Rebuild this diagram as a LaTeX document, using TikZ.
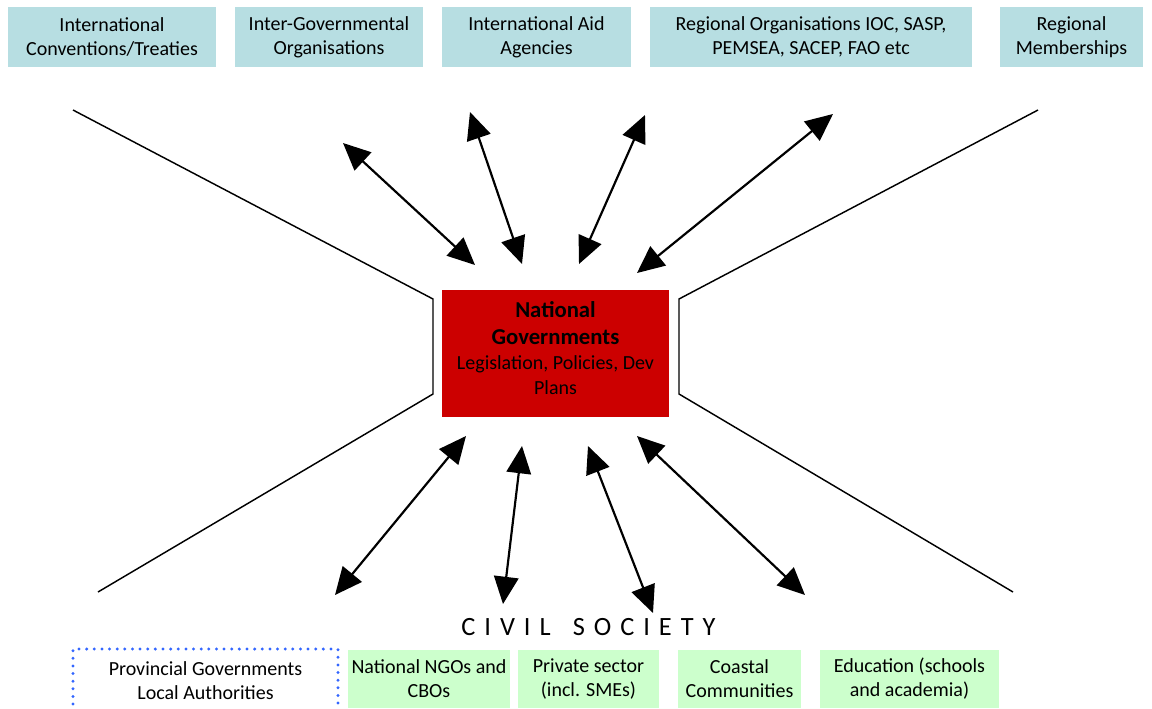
\documentclass[tikz,border=0pt]{standalone}
\usepackage{fontspec}
\setmainfont{Carlito}
\usetikzlibrary{arrows.meta}

\definecolor{agencyfill}{RGB}{183,222,226}
\definecolor{societyfill}{RGB}{204,255,204}
\definecolor{govred}{RGB}{204,0,0}
\definecolor{localblue}{RGB}{51,102,255}

\begin{document}
\begin{tikzpicture}[x=0.55pt, y=-0.55pt]
        \tikzstyle{agency}=[fill=agencyfill, minimum height=33pt, align=center, inner sep=0pt, font=\fontsize{11}{13.2}\selectfont];
        \tikzstyle{society}=[fill=societyfill, minimum height=31.9pt, align=center, inner sep=0pt, font=\fontsize{11}{13.2}\selectfont];
        \tikzstyle{link}=[{Triangle[length=15pt, width=13.5pt]}-{Triangle[length=15pt, width=13.5pt]}, line width=1.2pt, black];
        \tikzstyle{funnel}=[line width=0.8pt, black];

        \useasboundingbox (0, 0) rectangle (1152, 708);
        \clip (0, 0) rectangle (1152, 708);

        % international level
        \node[agency, minimum width=114.4pt] (conv) at (112, 37) {International\\Conventions/Treaties};
        \node[agency, minimum width=103.4pt] (igo) at (329, 37) {Inter-Governmental\\Organisations};
        \node[agency, minimum width=104pt] (aid) at (536.5, 37) {International Aid\\Agencies};
        \node[agency, minimum width=177.1pt] (regorg) at (811, 37) {Regional Organisations IOC, SASP,\\PEMSEA, SACEP, FAO etc};
        \node[agency, minimum width=78.65pt] (regmem) at (1071.5, 37) {Regional\\Memberships};

        % national level
        \node[fill=govred, minimum width=124.85pt, minimum height=69.85pt, align=center, inner sep=0pt, text depth=6pt, font=\fontsize{11}{13.75}\selectfont] (gov) at (555.5, 353.5)
            {{\fontsize{12.5}{15.4}\selectfont\bfseries National}\\[1.6pt]{\fontsize{12.5}{15.4}\selectfont\bfseries Governments}\\Legislation, Policies, Dev\\Plans};

        % civil society
        \node[font=\fontsize{14.5}{17}\selectfont\addfontfeatures{LetterSpace=34}] (civil) at (588.5, 627) {CIVIL\hspace{4pt} SOCIETY};
        \node[draw=localblue, line width=1.8pt, line cap=round, dash pattern=on 0pt off 4.2pt, minimum width=145.75pt, minimum height=35.2pt, align=center, inner sep=0pt, font=\fontsize{11}{13.2}\selectfont] (prov) at (205.5, 681) {Provincial Governments\\Local Authorities};
        \node[society, minimum width=89.1pt] (ngo) at (429, 679) {National NGOs and\\CBOs};
        \node[society, minimum width=77.55pt] (priv) at (588.5, 679) {Private sector\\(incl. SMEs)};
        \node[society, minimum width=67.65pt] (coast) at (739.5, 679) {Coastal\\Communities};
        \node[society, minimum width=98.45pt] (edu) at (909.5, 679) {Education (schools\\and academia)};

        % funnel
        \draw[funnel] (73, 110) -- (433, 299) -- (433, 394) -- (98, 592);
        \draw[funnel] (1038, 110) -- (679, 299) -- (679, 394) -- (1013, 592);

        % arrow ends
        \coordinate (1) at (343, 143);
        \coordinate (2) at (475, 265);
        \coordinate (3) at (470, 112);
        \coordinate (4) at (522, 264);
        \coordinate (5) at (645, 115);
        \coordinate (6) at (579, 264);
        \coordinate (7) at (833, 114);
        \coordinate (8) at (637, 273);

        \coordinate (9) at (466, 436);
        \coordinate (10) at (335, 595);
        \coordinate (11) at (522, 446);
        \coordinate (12) at (503, 604);
        \coordinate (13) at (588, 446);
        \coordinate (14) at (653, 613);
        \coordinate (15) at (637, 436);
        \coordinate (16) at (805, 595);

        \draw (1) edge[link] (2);
        \draw (3) edge[link] (4);
        \draw (5) edge[link] (6);
        \draw (7) edge[link] (8);

        \draw (9) edge[link] (10);
        \draw (11) edge[link] (12);
        \draw (13) edge[link] (14);
        \draw (15) edge[link] (16);

    \end{tikzpicture}
\end{document}
